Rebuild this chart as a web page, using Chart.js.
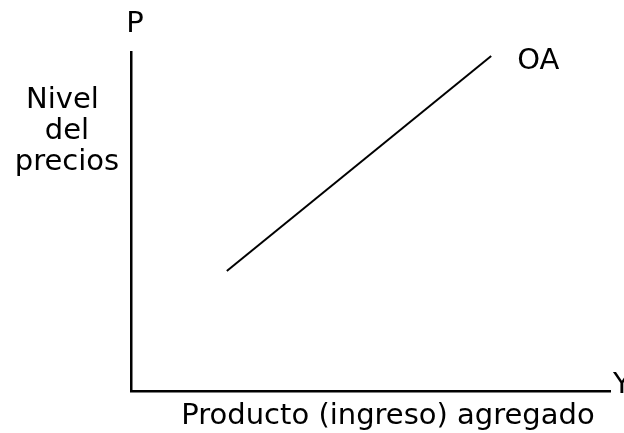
<!DOCTYPE html>
<html>
<head>
<meta charset="utf-8">
<script src="https://cdn.jsdelivr.net/npm/chart.js@4.4.0/dist/chart.umd.min.js"></script>
<style>
  html, body { margin: 0; padding: 0; background: #fff; }
  #wrap { width: 624px; height: 433px; }
</style>
</head>
<body>
<div id="wrap"><canvas id="chart" width="624" height="433"></canvas></div>
<script>
// curva de oferta agregada (OA), en unidades del grafico 0-100
const curveX = [20, 75.2];
const curveY = [35.4, 98.8];
const curveName = 'OA';
const yAxisLetter = 'P';
const xAxisLetter = 'Y';
const yTitle = ['Nivel ', 'del', 'precios'];
const xTitle = 'Producto (ingreso) agregado';

const FONT = '29px "DejaVu Sans", sans-serif';

// textos del diagrama
const labelsPlugin = {
    id: 'labels',
    afterDraw(chart) {
        const ctx = chart.ctx;
        const a = chart.chartArea;
        const xs = chart.scales.x;
        const ys = chart.scales.y;
        ctx.save();
        ctx.fillStyle = '#000';
        ctx.font = FONT;
        ctx.textBaseline = 'alphabetic';

        ctx.textAlign = 'center';
        ctx.fillText(yAxisLetter, a.left + 4, 32);

        ctx.textAlign = 'left';
        ctx.fillText(curveName, xs.getPixelForValue(curveX[1]) + 26, ys.getPixelForValue(curveY[1]) + 13);
        ctx.fillText(xAxisLetter, a.right + 3, a.bottom + 2);

        ctx.textAlign = 'center';
        yTitle.forEach((t, i) => ctx.fillText(t, 67, 108 + i * 31));
        ctx.fillText(xTitle, 388, 424);
        ctx.restore();
    }
};

new Chart(document.getElementById('chart').getContext('2d'), {
    type: 'scatter',
    data: {
        datasets: [{
            label: curveName,
            data: curveX.map((x, i) => ({ x: x, y: curveY[i] })),
            showLine: true,
            borderColor: '#000',
            borderWidth: 2,
            pointRadius: 0,
            fill: false
        }]
    },
    options: {
        responsive: false,
        animation: false,
        layout: {
            padding: { left: 131, right: 14, top: 52, bottom: 42 }
        },
        plugins: {
            legend: { display: false },
            tooltip: { enabled: false }
        },
        scales: {
            x: {
                type: 'linear',
                min: 0,
                max: 100,
                grid: { display: false, drawTicks: false },
                ticks: { display: false },
                border: { display: true, color: '#000', width: 2.5 }
            },
            y: {
                type: 'linear',
                min: 0,
                max: 100,
                grid: { display: false, drawTicks: false },
                ticks: { display: false },
                border: { display: true, color: '#000', width: 2.5 }
            }
        }
    },
    plugins: [labelsPlugin]
});
</script>
</body>
</html>
